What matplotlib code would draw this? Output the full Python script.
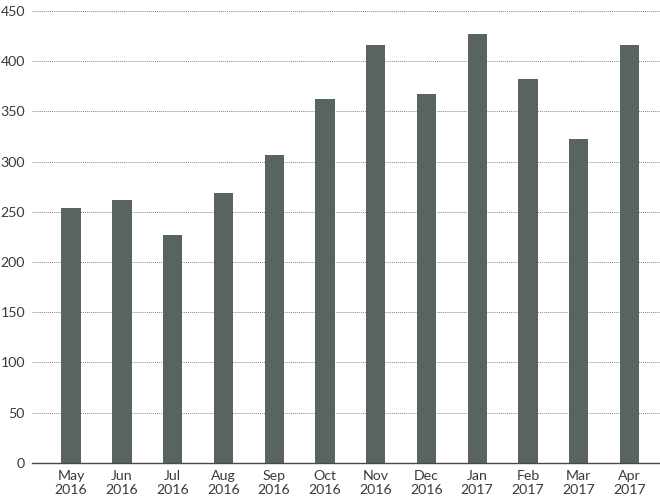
import matplotlib
matplotlib.use("Agg")
import matplotlib.pyplot as plt

months = ["May\n2016", "Jun\n2016", "Jul\n2016", "Aug\n2016", "Sep\n2016", "Oct\n2016",
          "Nov\n2016", "Dec\n2016", "Jan\n2017", "Feb\n2017", "Mar\n2017", "Apr\n2017"]
values = [254, 262, 227, 269, 307, 362, 416, 367, 427, 382, 322, 416]
yticks = [0, 50, 100, 150, 200, 250, 300, 350, 400, 450]

plt.rcParams['font.family'] = ['Lato', 'DejaVu Sans']

fig = plt.figure(figsize=(6.6, 5.01), dpi=100)
ax = fig.add_axes([32/660, 1 - 462.7/501, 1 - 32/660, (462.7 - 11)/501])

x = list(range(len(months)))
ax.bar(x, values, width=0.38, color="#596462", zorder=3)

ax.set_ylim(0, 450)
ax.set_xlim(-0.77, 11.6)
ax.set_yticks(yticks)
ax.set_xticks(x)
ax.set_xticklabels(months, fontsize=10.2, color="#3a3a3a", linespacing=1.2)
ax.tick_params(axis='y', labelsize=10.2, labelcolor="#3a3a3a", length=0, pad=5)
ax.tick_params(axis='x', length=0, pad=5)

ax.yaxis.grid(True, linestyle=(0, (1, 1)), color="#8a8a8a", linewidth=0.7, zorder=0)
for s in ["top", "right", "left"]:
    ax.spines[s].set_visible(False)
ax.spines["bottom"].set_color("#4a4a4a")
ax.spines["bottom"].set_linewidth(1.0)
ax.spines["bottom"].set_zorder(4)

fig.savefig("out.png", dpi=100)
